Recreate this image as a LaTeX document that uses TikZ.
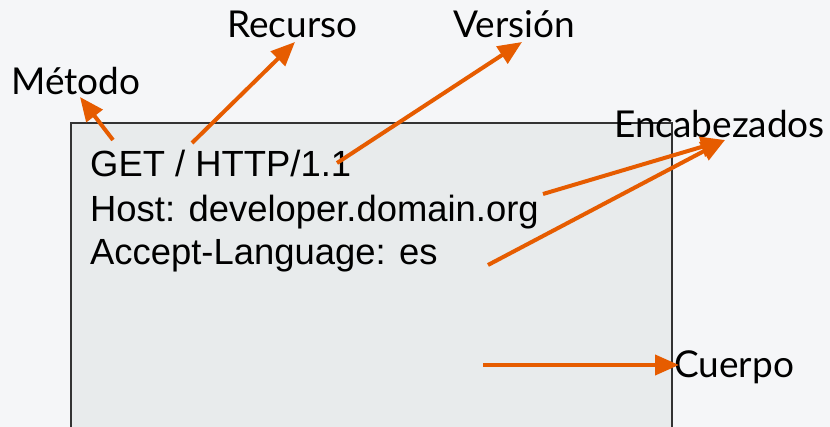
\documentclass[tikz,border=0pt]{standalone}
\usepackage{fontspec}
\setmainfont{Liberation Sans}
\newfontfamily\lato{Lato}
\usetikzlibrary{arrows.meta}
\definecolor{bgc}{HTML}{F5F6F8}
\definecolor{boxc}{HTML}{E8EBEC}
\definecolor{edgec}{HTML}{333333}
\definecolor{orng}{HTML}{E65C00}
\begin{document}
\begin{tikzpicture}[x=1pt,y=-1pt,
  lbl/.style={font=\lato\fontsize{37}{44}\selectfont, anchor=base west, inner sep=0pt, text=black},
  code/.style={font=\fontsize{36.4}{44}\selectfont, anchor=base west, inner sep=0pt, text=black},
  arr/.style={draw=orng, line width=4pt, -{Triangle[length=24pt,width=20pt]}}]
\fill[bgc] (0,0) rectangle (830,427);
\useasboundingbox (0,0) rectangle (830,427);
\draw[edgec, fill=boxc, line width=1.8pt] (71,123) rectangle (672,440);
\node[code] (l1) at (90,177) {GET / HTTP/1.1};
\node[code] (l2) at (90,222) {Host: developer.domain.org};
\node[code] (l3) at (90,265) {Accept-Language: es};
\node[lbl] (metodo) at (11,95) {Método};
\node[lbl] (recurso) at (227,38) {Recurso};
\node[lbl] (version) at (453,38) {Versión};
\node[lbl] (enc) at (614,138) {Encabezados};
\node[lbl] (cuerpo) at (674,378) {Cuerpo};
\coordinate (m0) at (113,140); \coordinate (m1) at (80,97);
\coordinate (r0) at (192,143); \coordinate (r1) at (295,42);
\coordinate (v0) at (337,163); \coordinate (v1) at (522,42);
\coordinate (e0) at (543,194); \coordinate (e1) at (488,265); \coordinate (et) at (725,140);
\coordinate (c0) at (483,365); \coordinate (c1) at (679,365);
\draw[arr] (m0) -- (m1);
\draw[arr] (r0) -- (r1);
\draw[arr] (v0) -- (v1);
\draw[arr] (e0) -- (et);
\draw[arr] (e1) -- (et);
\draw[arr] (c0) -- (c1);
\end{tikzpicture}
\end{document}
